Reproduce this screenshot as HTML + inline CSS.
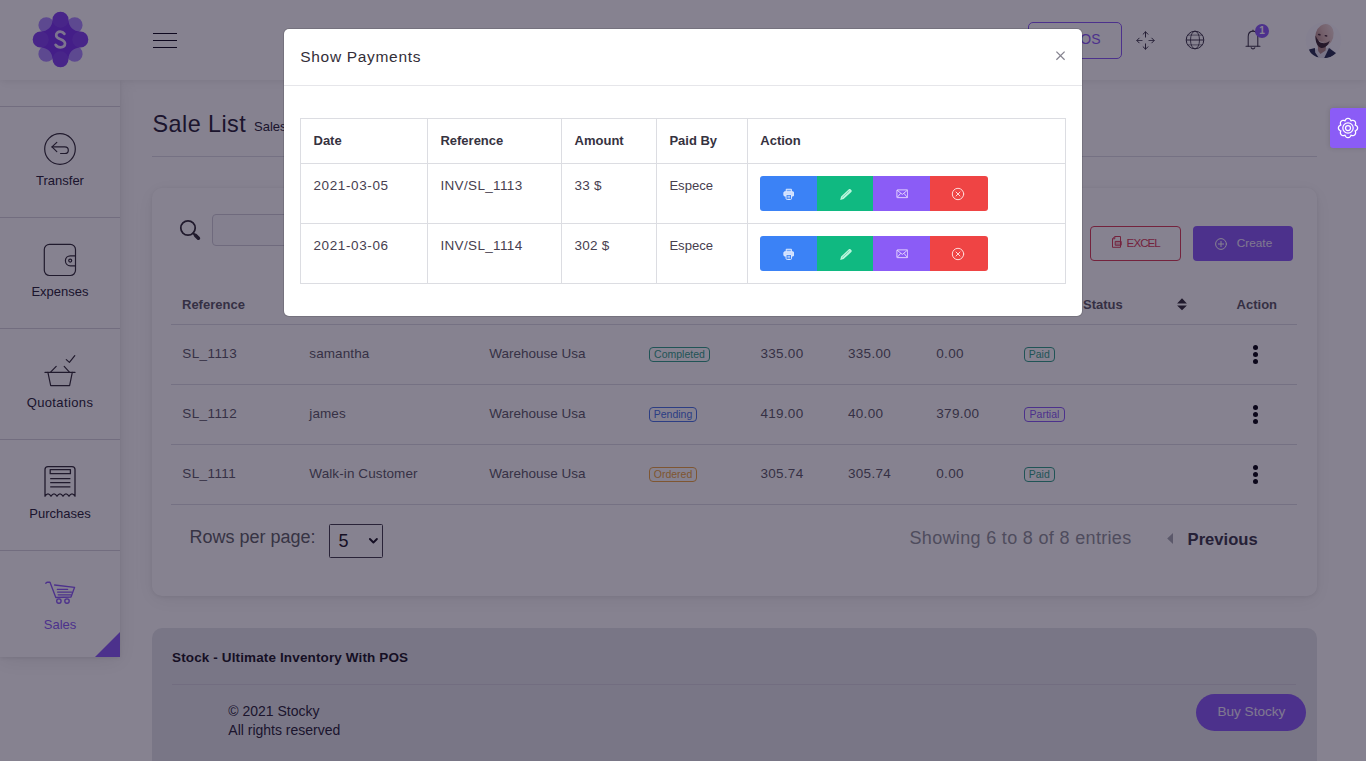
<!DOCTYPE html>
<html lang="en">
<head>
<meta charset="utf-8">
<title>Sale List</title>
<style>
*{box-sizing:border-box;margin:0;padding:0}
html,body{width:1366px;height:761px;overflow:hidden;background:#fff}
body{font-family:"Liberation Sans",sans-serif;color:#47404f;position:relative;font-size:14px}
.a{position:absolute}
.t{position:absolute;white-space:nowrap;line-height:1}
#page{position:absolute;left:0;top:0;width:1366px;height:761px;z-index:1;overflow:hidden}
#header{position:absolute;left:0;top:0;width:1366px;height:80px;background:#fff;box-shadow:0 1px 15px rgba(0,0,0,.05),0 1px 6px rgba(0,0,0,.05);z-index:3}
#sidebar{position:absolute;left:0;top:80px;width:120px;height:577px;background:#fff;box-shadow:0 4px 20px 1px rgba(0,0,0,.07),0 1px 4px rgba(0,0,0,.09);z-index:2}
#card{position:absolute;left:152px;top:188px;width:1165px;height:408px;background:#fff;border-radius:10px;box-shadow:0 4px 20px 1px rgba(0,0,0,.06),0 1px 4px rgba(0,0,0,.08)}
#foot{position:absolute;left:152px;top:628px;width:1165px;height:170px;background:#e5e7eb;border-radius:10px}
#backdrop{position:absolute;left:0;top:0;width:1366px;height:761px;background:rgba(13,5,33,.5);z-index:10}
#gear{position:absolute;left:1330px;top:108px;width:36px;height:40px;background:#8b5cf6;border-radius:3px 0 0 3px;z-index:20;box-shadow:0 0 5px rgba(0,0,0,.14)}
#modal{position:absolute;left:0;top:0;width:1366px;height:761px;z-index:30}
#mbox{position:absolute;left:284px;top:28.7px;width:798px;height:287px;background:#fff;border-radius:5px;box-shadow:0 0 0 1px rgba(0,0,0,.12)}
</style>
</head>
<body>
<div id="page">
<div id="header"></div>
<svg class="a" style="left:30px;top:9px;z-index:4" width="61" height="61" viewBox="-30.5 -30.5 61 61">
<g fill="#ad8cff">
<circle cx="-14.2" cy="-14.4" r="7.9"/><circle cx="14.2" cy="-14.4" r="7.9"/><circle cx="-14.2" cy="14.4" r="7.9"/><circle cx="14.2" cy="14.4" r="7.9"/>
</g>
<path d="M8,-19.8 A8,8 0 0 0 -8,-19.8 C-8,-13 -13,-8 -19.8,-8 A8,8 0 0 0 -19.8,8 C-13,8 -8,13 -8,19.8 A8,8 0 0 0 8,19.8 C8,13 13,8 19.8,8 A8,8 0 0 0 19.8,-8 C13,-8 8,-13 8,-19.8Z" fill="#7a36ee"/>
<g fill="#b49cff" opacity=".15">
<circle cx="0" cy="-19.8" r="8"/><circle cx="0" cy="19.8" r="8"/><circle cx="-19.8" cy="0" r="8"/><circle cx="19.8" cy="0" r="8"/>
</g>
<path d="M3.9,-5.6 C2.8,-7.1 1.3,-7.8 -0.3,-7.8 C-2.8,-7.8 -4.3,-6.3 -4.3,-4.3 C-4.3,-2.2 -2.6,-1.2 0,-0.3 C2.8,0.7 4.5,1.8 4.5,4.1 C4.5,6.4 2.7,7.9 0,7.9 C-2.2,7.9 -3.9,6.9 -4.9,5.3" fill="none" stroke="#fff" stroke-opacity=".86" stroke-width="2.7" stroke-linecap="round"/>
</svg>
<div class="a" style="left:153px;top:33px;width:24px;height:1px;background:#0f0b1c;z-index:4;"></div>
<div class="a" style="left:153px;top:40px;width:24px;height:1px;background:#0f0b1c;z-index:4;"></div>
<div class="a" style="left:153px;top:47px;width:24px;height:1px;background:#0f0b1c;z-index:4;"></div>
<div class="a" style="left:1028px;top:22px;width:94px;height:37px;border:1px solid #8b5cf6;border-radius:5px;z-index:4"></div>
<div class="t" style="left:1071px;top:32.15px;font-size:14px;color:#8b5cf6;z-index:4;">POS</div>
<svg class="a" style="left:1136px;top:30.5px;z-index:4" width="19" height="19" viewBox="-9.5 -9.5 19 19" fill="none" stroke="#3a3547" stroke-width="1" stroke-linecap="round" stroke-linejoin="round">
<path d="M0,-3.4 V-8.6 M-2.4,-6.3 L0,-8.7 L2.4,-6.3"/>
<path d="M0,3.4 V8.6 M-2.4,6.3 L0,8.7 L2.4,6.3"/>
<path d="M-3.4,0 H-8.4 M3.4,0 H8.4" opacity=".8"/>
<path d="M-6.3,-2.4 L-8.7,0 L-6.3,2.4 M6.3,-2.4 L8.7,0 L6.3,2.4"/>
</svg>
<svg class="a" style="left:1184.5px;top:29.5px;z-index:4" width="20" height="20" viewBox="-10 -10 20 20" fill="none" stroke="#3a3547" stroke-width="1">
<circle r="8.8"/><ellipse rx="4.5" ry="8.8" opacity=".85"/><path d="M-8.8,0 H8.8"/><path d="M-7.4,-4.9 H7.4 M-7.4,4.9 H7.4" opacity=".6"/>
</svg>
<svg class="a" style="left:1243px;top:28px;z-index:4" width="20" height="23" viewBox="0 0 20 23" fill="none" stroke="#3a3547" stroke-width="1.05" stroke-linecap="round" stroke-linejoin="round">
<path d="M5.2,18.3 V8.6 C5.2,5.2 7.2,3.1 10,3.1 C12.8,3.1 14.8,5.2 14.8,8.6 V18.3"/>
<path d="M3,18.3 H17"/>
<path d="M8.2,19.8 C8.6,20.6 9.2,20.9 10,20.9 C10.8,20.9 11.4,20.6 11.8,19.8"/>
<path d="M10,3.1 V2"/>
</svg>
<div class="a" style="left:1255px;top:24px;width:14px;height:14px;border-radius:7px;background:#8b5cf6;z-index:5"></div>
<div class="t" style="left:1259.3px;top:26.13px;font-size:10px;color:#fff;font-weight:700;z-index:6;">1</div>
<svg class="a" style="left:1305px;top:22px;z-index:4" width="37" height="37" viewBox="1305 22 37 37">
<defs><clipPath id="av"><circle cx="1323.5" cy="40.3" r="18"/></clipPath><filter id="bl" x="-10%" y="-10%" width="120%" height="120%"><feGaussianBlur stdDeviation=".55"/></filter>
<linearGradient id="sk" x1="1" y1="0" x2="0" y2="1"><stop offset="0" stop-color="#f3e4e2"/><stop offset=".5" stop-color="#dcbcb6"/><stop offset="1" stop-color="#a67c7a"/></linearGradient></defs>
<g clip-path="url(#av)"><rect x="1305" y="22" width="37" height="37" fill="#fbfbff"/><g filter="url(#bl)">
<path d="M1313.6,49 L1330.5,47.6 L1334,58.5 H1313Z" fill="#e4e5ef"/>
<path d="M1317.6,44 L1326.4,43 L1325.6,50.5 L1320.4,54 L1318.2,51Z" fill="#b08c88"/>
<path d="M1309,49.4 L1314.9,48 L1315.2,52.6 L1318.6,57.6 L1314,57.2 C1311.6,55 1310,52.6 1309,49.4Z" fill="#2b3352"/>
<path d="M1329,48 L1336.2,53.2 C1333.4,56.4 1329.4,58.2 1324.2,57.9Z" fill="#2b3352"/>
<ellipse cx="1324.5" cy="35.3" rx="9" ry="11.5" transform="rotate(16 1324.5 35.3)" fill="url(#sk)"/>
<path d="M1315.6,35.6 C1315.2,41.6 1317,46.4 1320.6,47.8 C1324.2,48.8 1328,46 1329.8,40.6 C1327.6,43 1325,43.6 1322.4,43 C1319.4,42.2 1317,39.6 1315.6,35.6Z" fill="#3c2a33"/>
<path d="M1318.4,40.2 C1320,41.6 1322.6,42.2 1325,41.2 C1323.8,43.6 1319.6,43.4 1318.4,40.2Z" fill="#e9dcdc"/>
<ellipse cx="1319.3" cy="34.6" rx="1.5" ry=".8" fill="#4a3038" transform="rotate(12 1319.3 34.6)"/><ellipse cx="1326" cy="35.8" rx="1.5" ry=".8" fill="#4a3038" transform="rotate(12 1326 35.8)"/>
</g></g></svg>
<div id="sidebar"></div>
<div class="a" style="left:0px;top:106px;width:120px;height:1px;background:#d6d4dc;z-index:3;"></div>
<div class="a" style="left:0px;top:217px;width:120px;height:1px;background:#d6d4dc;z-index:3;"></div>
<div class="a" style="left:0px;top:328px;width:120px;height:1px;background:#d6d4dc;z-index:3;"></div>
<div class="a" style="left:0px;top:439px;width:120px;height:1px;background:#d6d4dc;z-index:3;"></div>
<div class="a" style="left:0px;top:550px;width:120px;height:1px;background:#d6d4dc;z-index:3;"></div>
<div class="t" style="left:0;width:120px;text-align:center;top:173.89px;font-size:13px;color:#2a2538;z-index:3">Transfer</div>
<div class="t" style="left:0;width:120px;text-align:center;top:284.59px;font-size:13px;color:#2a2538;z-index:3">Expenses</div>
<div class="t" style="left:0;width:120px;text-align:center;top:395.69px;font-size:13px;letter-spacing:.38px;color:#2a2538;z-index:3">Quotations</div>
<div class="t" style="left:0;width:120px;text-align:center;top:506.79px;font-size:13px;color:#2a2538;z-index:3">Purchases</div>
<div class="t" style="left:0;width:120px;text-align:center;top:617.69px;font-size:13px;color:#8b5cf6;z-index:3">Sales</div>
<svg class="a" style="left:43px;top:132px;z-index:3" width="34" height="34" viewBox="-17 -17 34 34" fill="none" stroke="#332e38" stroke-width="1.2" stroke-linecap="round" stroke-linejoin="round">
<circle r="15.3"/><path d="M-3.2,-6.6 L-8,-2.1 L-3.2,2.6"/><path d="M-8,-2.1 H4.8 C7,-2.1 8.3,-0.6 8.3,1.2 C8.3,3 7,4.5 4.8,4.5 H0.6"/>
</svg>
<svg class="a" style="left:43px;top:243px;z-index:3" width="34" height="34" viewBox="0 0 34 34" fill="none" stroke="#332e38" stroke-width="1.2" stroke-linejoin="round">
<rect x="1.3" y="1.3" width="31.2" height="31.2" rx="5.2"/><path d="M32.5,12.8 H27.4 C24.6,12.8 22.4,15 22.4,17.8 C22.4,20.6 24.6,22.8 27.4,22.8 H32.5"/><circle cx="27.2" cy="17.6" r="1.5"/>
</svg>
<svg class="a" style="left:43px;top:353px;z-index:3" width="34" height="35" viewBox="43 353 34 35" fill="none" stroke="#332e38" stroke-width="1.2" stroke-linecap="round" stroke-linejoin="round">
<path d="M45,372.4 H75"/><path d="M47.9,372.4 L50.7,385.7 H69.6 L72.3,372.4"/><path d="M50.6,372.2 L56.2,366.4 M69.4,372.2 L64.2,366.4"/><path d="M66.3,359.6 L69.4,362.4 L74.8,355.6"/>
</svg>
<svg class="a" style="left:43px;top:465px;z-index:3" width="34" height="33" viewBox="43 465 34 33" fill="none" stroke="#332e38" stroke-width="1.3" stroke-linejoin="round">
<path d="M45,496.2 V469.6 C45,467.8 46.2,466.6 48,466.6 H72 C73.8,466.6 75,467.8 75,469.6 V496.2 Q72,491.4 69,496.2 Q66,491.4 63,496.2 Q60,491.4 57,496.2 Q54,491.4 51,496.2 Q48,491.4 45,496.2Z"/>
<rect x="50.2" y="469.6" width="20.2" height="4.1"/><path d="M50.2,478.6 H70.4 M50.2,482.7 H70.4 M50.2,486.8 H70.4"/>
</svg>
<svg class="a" style="left:43px;top:578px;z-index:3" width="34" height="28" viewBox="43 578 34 28" fill="none" stroke="#8b5cf6" stroke-width="1.35" stroke-linecap="round" stroke-linejoin="round">
<path d="M45.8,583.4 C46,582.4 46.6,582.2 47.4,582.2 H50 L55.8,597.5 L71,597 L74.6,587.3 L54.6,585"/>
<path d="M57.4,589.4 H67.6 M57.6,592.1 H71.6 M58.2,594.8 H70.8"/>
<circle cx="58.9" cy="601" r="2.2"/><circle cx="67" cy="601" r="2.2"/>
</svg>
<div class="a" style="left:95px;top:632px;width:0;height:0;border-style:solid;border-width:0 0 25px 25px;border-color:transparent transparent #8b5cf6 transparent;z-index:3"></div>
<div class="t" style="left:152.6px;top:112.79px;font-size:23.4px;color:#2a2538;letter-spacing:0.42px;">Sale List</div>
<div class="t" style="left:254px;top:120.19px;font-size:13px;color:#2a2538;">Sales</div>
<div class="a" style="left:152px;top:156px;width:1165px;height:1px;background:#dddce4;"></div>
<div id="card"></div>
<svg class="a" style="left:178px;top:218px" width="26" height="26" viewBox="178 218 26 26" fill="none" stroke="#332e38" stroke-linecap="round">
<circle cx="188" cy="228" r="7.2" stroke-width="1.75"/><path d="M193.2,233.2 L195,235" stroke-width="2"/><path d="M195.6,235.4 L198.4,238.2" stroke-width="3.6"/>
</svg>
<div class="a" style="left:212px;top:214px;width:300px;height:32px;border:1px solid #d0ced8;border-radius:4px;background:#fbfbfd"></div>
<div class="a" style="left:1090px;top:226px;width:91px;height:34.6px;border:1px solid #da4059;border-radius:4px"></div>
<svg class="a" style="left:1111px;top:235px" width="12" height="14" viewBox="1111 235 12 14" fill="none" stroke="#da4059" stroke-width="1" stroke-linejoin="round">
<path d="M1114.8,236.5 H1120.5 V247.3 H1112.5 V238.8Z"/><path d="M1114.8,236.5 V238.8 H1112.5"/><rect x="1115.2" y="241.4" width="6" height="3.8" fill="#da4059" fill-opacity=".3"/>
</svg>
<div class="t" style="left:1126.6px;top:237.08px;font-size:11.6px;color:#da4059;letter-spacing:-0.95px;">EXCEL</div>
<div class="a" style="left:1193px;top:226px;width:100px;height:34.6px;border-radius:4px;background:#8b5cf6"></div>
<svg class="a" style="left:1214px;top:237px" width="14" height="14" viewBox="-7 -7 14 14" fill="none" stroke="#fff" stroke-width="1" stroke-linecap="round"><circle r="5.4"/><path d="M-2.6,0 H2.6 M0,-2.6 V2.6"/></svg>
<div class="t" style="left:1236.8px;top:237.91px;font-size:11.8px;color:#f1eaff;">Create</div>
<div class="t" style="left:182px;top:298.29px;font-size:13px;color:#5c5a66;font-weight:700;">Reference</div>
<div class="t" style="left:1083px;top:298.29px;font-size:13px;color:#5c5a66;font-weight:700;">Status</div>
<div class="t" style="left:1236.6px;top:298.29px;font-size:13px;color:#5c5a66;font-weight:700;">Action</div>
<svg class="a" style="left:1176px;top:297px" width="12" height="14" viewBox="1176 297 12 14"><path d="M1182,298.3 L1186.9,303.5 H1177.1Z M1177.1,305.5 H1186.9 L1182,310.2Z" fill="#332e38"/></svg>
<div class="a" style="left:171px;top:324px;width:1126px;height:1px;background:#dddce4;"></div>
<div class="t" style="left:182.3px;top:346.87px;font-size:13.5px;color:#5e5c68;letter-spacing:0.4px;">SL_1113</div>
<div class="t" style="left:309.3px;top:346.87px;font-size:13.5px;color:#5e5c68;letter-spacing:0.1px;">samantha</div>
<div class="t" style="left:489.2px;top:346.87px;font-size:13.5px;color:#5e5c68;">Warehouse Usa</div>
<div class="a" style="left:649px;top:347px;width:61px;height:14.8px;border:1px solid #33a38b;border-radius:4px"></div><div class="t" style="left:649px;width:61px;text-align:center;top:349.41px;font-size:10.5px;color:#33a38b">Completed</div>
<div class="t" style="left:760.4px;top:346.87px;font-size:13.5px;color:#5e5c68;letter-spacing:0.3px;">335.00</div>
<div class="t" style="left:848px;top:346.87px;font-size:13.5px;color:#5e5c68;letter-spacing:0.3px;">335.00</div>
<div class="t" style="left:936.3px;top:346.87px;font-size:13.5px;color:#5e5c68;letter-spacing:0.3px;">0.00</div>
<div class="a" style="left:1024px;top:347px;width:30.5px;height:14.8px;border:1px solid #33a38b;border-radius:4px"></div><div class="t" style="left:1024px;width:30.5px;text-align:center;top:349.41px;font-size:10.5px;color:#33a38b">Paid</div>
<div class="a" style="left:1253.2px;top:344.8px;width:5px;height:5px;border-radius:50%;background:#0b0914"></div>
<div class="a" style="left:1253.2px;top:351.9px;width:5px;height:5px;border-radius:50%;background:#0b0914"></div>
<div class="a" style="left:1253.2px;top:359.0px;width:5px;height:5px;border-radius:50%;background:#0b0914"></div>
<div class="a" style="left:171px;top:384px;width:1126px;height:1px;background:#dddce4;"></div>
<div class="t" style="left:182.3px;top:406.87px;font-size:13.5px;color:#5e5c68;letter-spacing:0.4px;">SL_1112</div>
<div class="t" style="left:309.3px;top:406.87px;font-size:13.5px;color:#5e5c68;letter-spacing:0.1px;">james</div>
<div class="t" style="left:489.2px;top:406.87px;font-size:13.5px;color:#5e5c68;">Warehouse Usa</div>
<div class="a" style="left:649px;top:407px;width:48px;height:14.8px;border:1px solid #4a76e6;border-radius:4px"></div><div class="t" style="left:649px;width:48px;text-align:center;top:409.41px;font-size:10.5px;color:#4a76e6">Pending</div>
<div class="t" style="left:760.4px;top:406.87px;font-size:13.5px;color:#5e5c68;letter-spacing:0.3px;">419.00</div>
<div class="t" style="left:848px;top:406.87px;font-size:13.5px;color:#5e5c68;letter-spacing:0.3px;">40.00</div>
<div class="t" style="left:936.3px;top:406.87px;font-size:13.5px;color:#5e5c68;letter-spacing:0.3px;">379.00</div>
<div class="a" style="left:1024px;top:407px;width:41px;height:14.8px;border:1px solid #8b5cf6;border-radius:4px"></div><div class="t" style="left:1024px;width:41px;text-align:center;top:409.41px;font-size:10.5px;color:#8b5cf6">Partial</div>
<div class="a" style="left:1253.2px;top:404.8px;width:5px;height:5px;border-radius:50%;background:#0b0914"></div>
<div class="a" style="left:1253.2px;top:411.9px;width:5px;height:5px;border-radius:50%;background:#0b0914"></div>
<div class="a" style="left:1253.2px;top:419.0px;width:5px;height:5px;border-radius:50%;background:#0b0914"></div>
<div class="a" style="left:171px;top:444px;width:1126px;height:1px;background:#dddce4;"></div>
<div class="t" style="left:182.3px;top:466.87px;font-size:13.5px;color:#5e5c68;letter-spacing:0.4px;">SL_1111</div>
<div class="t" style="left:309.3px;top:466.87px;font-size:13.5px;color:#5e5c68;letter-spacing:0.1px;">Walk-in Customer</div>
<div class="t" style="left:489.2px;top:466.87px;font-size:13.5px;color:#5e5c68;">Warehouse Usa</div>
<div class="a" style="left:649px;top:467px;width:48px;height:14.8px;border:1px solid #f0a640;border-radius:4px"></div><div class="t" style="left:649px;width:48px;text-align:center;top:469.41px;font-size:10.5px;color:#f0a640">Ordered</div>
<div class="t" style="left:760.4px;top:466.87px;font-size:13.5px;color:#5e5c68;letter-spacing:0.3px;">305.74</div>
<div class="t" style="left:848px;top:466.87px;font-size:13.5px;color:#5e5c68;letter-spacing:0.3px;">305.74</div>
<div class="t" style="left:936.3px;top:466.87px;font-size:13.5px;color:#5e5c68;letter-spacing:0.3px;">0.00</div>
<div class="a" style="left:1024px;top:467px;width:30.5px;height:14.8px;border:1px solid #33a38b;border-radius:4px"></div><div class="t" style="left:1024px;width:30.5px;text-align:center;top:469.41px;font-size:10.5px;color:#33a38b">Paid</div>
<div class="a" style="left:1253.2px;top:464.8px;width:5px;height:5px;border-radius:50%;background:#0b0914"></div>
<div class="a" style="left:1253.2px;top:471.9px;width:5px;height:5px;border-radius:50%;background:#0b0914"></div>
<div class="a" style="left:1253.2px;top:479.0px;width:5px;height:5px;border-radius:50%;background:#0b0914"></div>
<div class="a" style="left:171px;top:504px;width:1126px;height:1px;background:#dddce4;"></div>
<div class="t" style="left:189.5px;top:527.86px;font-size:18px;color:#606266;">Rows per page:</div>
<div class="a" style="left:329px;top:524px;width:54px;height:33.5px;border:1px solid #45414f;border-radius:1.5px"></div>
<div class="t" style="left:338.4px;top:531.96px;font-size:18px;color:#1c1826;">5</div>
<svg class="a" style="left:367px;top:535px" width="13" height="11" viewBox="367 535 13 11" fill="none" stroke="#1c1826" stroke-width="1.9" stroke-linecap="round" stroke-linejoin="round"><path d="M369.9,539 L373.4,542.5 L376.9,539"/></svg>
<div class="t" style="left:909.5px;top:529.16px;font-size:18px;color:#909399;letter-spacing:0.33px;">Showing 6 to 8 of 8 entries</div>
<svg class="a" style="left:1166px;top:531px" width="8" height="14" viewBox="1166 531 8 14"><path d="M1167.2,538.5 L1173,533 V544Z" fill="#a8aab3"/></svg>
<div class="t" style="left:1187.6px;top:531.65px;font-size:16.6px;color:#3d3b4c;font-weight:700;">Previous</div>
<div id="foot"></div>
<div class="t" style="left:172px;top:650.97px;font-size:13.5px;color:#1c1826;font-weight:700;letter-spacing:0.13px;">Stock - Ultimate Inventory With POS</div>
<div class="a" style="left:172px;top:684px;width:1124px;height:1px;background:#d6d5de;"></div>
<div class="t" style="left:228.3px;top:703.55px;font-size:14px;color:#2a2538;">© 2021 Stocky</div>
<div class="t" style="left:228.3px;top:723.45px;font-size:14px;color:#2a2538;">All rights reserved</div>
<div class="a" style="left:1196px;top:694px;width:110px;height:36.6px;border-radius:19px;background:#8b5cf6"></div>
<div class="t" style="left:1217.4px;top:705.09px;font-size:13.6px;color:#f1eaff;">Buy Stocky</div>
</div>
<div id="backdrop"></div>
<div id="gear"><svg class="a" style="left:6.9px;top:9px" width="22" height="22" viewBox="-11 -11 22 22" fill="none" stroke="#fff" stroke-width="1.25" stroke-linejoin="round">
<path d="M0.00,-9.60 L0.38,-9.57 L0.75,-9.50 L1.11,-9.37 L1.46,-9.19 L1.78,-8.96 L2.09,-8.69 L2.36,-8.38 L2.61,-8.03 L2.81,-7.63 L2.95,-7.11 L3.40,-7.38 L3.83,-7.52 L4.26,-7.60 L4.67,-7.62 L5.08,-7.60 L5.47,-7.53 L5.84,-7.41 L6.19,-7.24 L6.50,-7.04 L6.79,-6.79 L7.04,-6.50 L7.24,-6.19 L7.41,-5.84 L7.53,-5.47 L7.60,-5.08 L7.62,-4.67 L7.60,-4.26 L7.52,-3.83 L7.38,-3.40 L7.11,-2.95 L7.63,-2.81 L8.03,-2.61 L8.38,-2.36 L8.69,-2.09 L8.96,-1.78 L9.19,-1.46 L9.37,-1.11 L9.50,-0.75 L9.57,-0.38 L9.60,-0.00 L9.57,0.38 L9.50,0.75 L9.37,1.11 L9.19,1.46 L8.96,1.78 L8.69,2.09 L8.38,2.36 L8.03,2.61 L7.63,2.81 L7.11,2.95 L7.38,3.40 L7.52,3.83 L7.60,4.26 L7.62,4.67 L7.60,5.08 L7.53,5.47 L7.41,5.84 L7.24,6.19 L7.04,6.50 L6.79,6.79 L6.50,7.04 L6.19,7.24 L5.84,7.41 L5.47,7.53 L5.08,7.60 L4.67,7.62 L4.26,7.60 L3.83,7.52 L3.40,7.38 L2.95,7.11 L2.81,7.63 L2.61,8.03 L2.36,8.38 L2.09,8.69 L1.78,8.96 L1.46,9.19 L1.11,9.37 L0.75,9.50 L0.38,9.57 L0.00,9.60 L-0.38,9.57 L-0.75,9.50 L-1.11,9.37 L-1.46,9.19 L-1.78,8.96 L-2.09,8.69 L-2.36,8.38 L-2.61,8.03 L-2.81,7.63 L-2.95,7.11 L-3.40,7.38 L-3.83,7.52 L-4.26,7.60 L-4.67,7.62 L-5.08,7.60 L-5.47,7.53 L-5.84,7.41 L-6.19,7.24 L-6.50,7.04 L-6.79,6.79 L-7.04,6.50 L-7.24,6.19 L-7.41,5.84 L-7.53,5.47 L-7.60,5.08 L-7.62,4.67 L-7.60,4.26 L-7.52,3.83 L-7.38,3.40 L-7.11,2.95 L-7.63,2.81 L-8.03,2.61 L-8.38,2.36 L-8.69,2.09 L-8.96,1.78 L-9.19,1.46 L-9.37,1.11 L-9.50,0.75 L-9.57,0.38 L-9.60,0.00 L-9.57,-0.38 L-9.50,-0.75 L-9.37,-1.11 L-9.19,-1.46 L-8.96,-1.78 L-8.69,-2.09 L-8.38,-2.36 L-8.03,-2.61 L-7.63,-2.81 L-7.11,-2.95 L-7.38,-3.40 L-7.52,-3.83 L-7.60,-4.26 L-7.62,-4.67 L-7.60,-5.08 L-7.53,-5.47 L-7.41,-5.84 L-7.24,-6.19 L-7.04,-6.50 L-6.79,-6.79 L-6.50,-7.04 L-6.19,-7.24 L-5.84,-7.41 L-5.47,-7.53 L-5.08,-7.60 L-4.67,-7.62 L-4.26,-7.60 L-3.83,-7.52 L-3.40,-7.38 L-2.95,-7.11 L-2.81,-7.63 L-2.61,-8.03 L-2.36,-8.38 L-2.09,-8.69 L-1.78,-8.96 L-1.46,-9.19 L-1.11,-9.37 L-0.75,-9.50 L-0.38,-9.57Z"/>
<circle r="5.2"/><circle r="2.5"/></svg></div>
<div id="modal">
<div id="mbox"></div>
<div class="t" style="left:300.3px;top:48.88px;font-size:15.5px;color:#332e38;letter-spacing:0.68px;">Show Payments</div>
<svg class="a" style="left:1055px;top:50px" width="11" height="11" viewBox="1055 50 11 11" stroke="#85838f" stroke-width="1.25" stroke-linecap="butt"><path d="M1056.4,51.6 L1064.6,59.8 M1064.6,51.6 L1056.4,59.8"/></svg>
<div class="a" style="left:284px;top:85px;width:798px;height:1px;background:#e6e6ea;"></div>
<div class="a" style="left:300px;top:118px;width:766px;height:1px;background:#dcdde2;"></div>
<div class="a" style="left:300px;top:163px;width:766px;height:1px;background:#dcdde2;"></div>
<div class="a" style="left:300px;top:223px;width:766px;height:1px;background:#dcdde2;"></div>
<div class="a" style="left:300px;top:283px;width:766px;height:1px;background:#dcdde2;"></div>
<div class="a" style="left:300px;top:118px;width:1px;height:166px;background:#dcdde2;"></div>
<div class="a" style="left:427px;top:118px;width:1px;height:166px;background:#dcdde2;"></div>
<div class="a" style="left:561px;top:118px;width:1px;height:166px;background:#dcdde2;"></div>
<div class="a" style="left:656px;top:118px;width:1px;height:166px;background:#dcdde2;"></div>
<div class="a" style="left:747px;top:118px;width:1px;height:166px;background:#dcdde2;"></div>
<div class="a" style="left:1065px;top:118px;width:1px;height:166px;background:#dcdde2;"></div>
<div class="t" style="left:313.5px;top:133.99px;font-size:13px;color:#36323f;font-weight:700;">Date</div>
<div class="t" style="left:440.4px;top:133.99px;font-size:13px;color:#36323f;font-weight:700;">Reference</div>
<div class="t" style="left:574.6px;top:133.99px;font-size:13px;color:#36323f;font-weight:700;">Amount</div>
<div class="t" style="left:669.4px;top:133.99px;font-size:13px;color:#36323f;font-weight:700;">Paid By</div>
<div class="t" style="left:760.3px;top:133.99px;font-size:13px;color:#36323f;font-weight:700;">Action</div>
<div class="t" style="left:313.4px;top:178.57px;font-size:13.5px;color:#47404f;letter-spacing:0.62px;">2021-03-05</div>
<div class="t" style="left:440.4px;top:178.57px;font-size:13.5px;color:#47404f;letter-spacing:0.35px;">INV/SL_1113</div>
<div class="t" style="left:574.6px;top:178.57px;font-size:13.5px;color:#47404f;letter-spacing:0.2px;">33 $</div>
<div class="t" style="left:669.4px;top:178.91px;font-size:13.1px;color:#47404f;">Espece</div>
<div class="a" style="left:760px;top:176px;width:57px;height:34.6px;background:#3b82f6;border-radius:3px 0 0 3px;"></div>
<div class="a" style="left:817px;top:176px;width:56px;height:34.6px;background:#10b981;"></div>
<div class="a" style="left:873px;top:176px;width:57px;height:34.6px;background:#8b5cf6;"></div>
<div class="a" style="left:930px;top:176px;width:58px;height:34.6px;background:#ef4444;border-radius:0 3px 3px 0;"></div>
<svg class="a" style="left:782.7px;top:187.6px" width="11.6" height="12.5" viewBox="0 0 13 14" fill="none" stroke="#e6efff" stroke-width="1.05" stroke-linejoin="round"><path d="M3.6,4.2 V1.4 H9.4 V4.2" fill="#e6efff" fill-opacity=".35"/><rect x="1" y="4.2" width="11" height="4.8" rx="1" fill="#e6efff" fill-opacity=".85"/><path d="M3.4,7.4 H9.6 V11.6 C9.6,12.4 9.1,12.9 8.3,12.9 H4.7 C3.9,12.9 3.4,12.4 3.4,11.6Z" fill="#3b82f6"/><path d="M5,9.4 H8 M5,11 H8" stroke-width=".8"/></svg>
<svg class="a" style="left:838.8px;top:188px" width="14" height="13" viewBox="0 0 14 13"><path d="M1.2,11.9 L2.1,8.6 L9.6,1.5 C10.2,.9 11.1,.9 11.7,1.5 L12.3,2.1 C12.9,2.7 12.9,3.5 12.3,4.1 L4.6,11.1Z" fill="#b9f5dd"/><path d="M3.2,9.6 L10.4,2.8" stroke="#10b981" stroke-width=".7" opacity=".6"/></svg>
<svg class="a" style="left:895.8px;top:189.4px" width="12.6" height="9.9" viewBox="0 0 14 11" fill="none" stroke="#eadcff" stroke-width="1" stroke-linejoin="round"><rect x="1" y="1" width="12" height="8.6" rx=".6"/><path d="M1.2,1.3 L7,6 L12.8,1.3 M1.3,9.3 L5.2,4.8 M12.7,9.3 L8.8,4.8"/></svg>
<svg class="a" style="left:951.3px;top:187.2px" width="14" height="14" viewBox="-7 -7 14 14" fill="none" stroke="#ffd9d9" stroke-width="1" stroke-linecap="round"><circle r="5.7"/><path d="M-2,-2 L2,2 M2,-2 L-2,2"/></svg>
<div class="t" style="left:313.4px;top:238.57px;font-size:13.5px;color:#47404f;letter-spacing:0.62px;">2021-03-06</div>
<div class="t" style="left:440.4px;top:238.57px;font-size:13.5px;color:#47404f;letter-spacing:0.35px;">INV/SL_1114</div>
<div class="t" style="left:574.6px;top:238.57px;font-size:13.5px;color:#47404f;letter-spacing:0.2px;">302 $</div>
<div class="t" style="left:669.4px;top:238.91px;font-size:13.1px;color:#47404f;">Espece</div>
<div class="a" style="left:760px;top:236px;width:57px;height:34.6px;background:#3b82f6;border-radius:3px 0 0 3px;"></div>
<div class="a" style="left:817px;top:236px;width:56px;height:34.6px;background:#10b981;"></div>
<div class="a" style="left:873px;top:236px;width:57px;height:34.6px;background:#8b5cf6;"></div>
<div class="a" style="left:930px;top:236px;width:58px;height:34.6px;background:#ef4444;border-radius:0 3px 3px 0;"></div>
<svg class="a" style="left:782.7px;top:247.6px" width="11.6" height="12.5" viewBox="0 0 13 14" fill="none" stroke="#e6efff" stroke-width="1.05" stroke-linejoin="round"><path d="M3.6,4.2 V1.4 H9.4 V4.2" fill="#e6efff" fill-opacity=".35"/><rect x="1" y="4.2" width="11" height="4.8" rx="1" fill="#e6efff" fill-opacity=".85"/><path d="M3.4,7.4 H9.6 V11.6 C9.6,12.4 9.1,12.9 8.3,12.9 H4.7 C3.9,12.9 3.4,12.4 3.4,11.6Z" fill="#3b82f6"/><path d="M5,9.4 H8 M5,11 H8" stroke-width=".8"/></svg>
<svg class="a" style="left:838.8px;top:248px" width="14" height="13" viewBox="0 0 14 13"><path d="M1.2,11.9 L2.1,8.6 L9.6,1.5 C10.2,.9 11.1,.9 11.7,1.5 L12.3,2.1 C12.9,2.7 12.9,3.5 12.3,4.1 L4.6,11.1Z" fill="#b9f5dd"/><path d="M3.2,9.6 L10.4,2.8" stroke="#10b981" stroke-width=".7" opacity=".6"/></svg>
<svg class="a" style="left:895.8px;top:249.4px" width="12.6" height="9.9" viewBox="0 0 14 11" fill="none" stroke="#eadcff" stroke-width="1" stroke-linejoin="round"><rect x="1" y="1" width="12" height="8.6" rx=".6"/><path d="M1.2,1.3 L7,6 L12.8,1.3 M1.3,9.3 L5.2,4.8 M12.7,9.3 L8.8,4.8"/></svg>
<svg class="a" style="left:951.3px;top:247.2px" width="14" height="14" viewBox="-7 -7 14 14" fill="none" stroke="#ffd9d9" stroke-width="1" stroke-linecap="round"><circle r="5.7"/><path d="M-2,-2 L2,2 M2,-2 L-2,2"/></svg>
</div>
</body>
</html>
